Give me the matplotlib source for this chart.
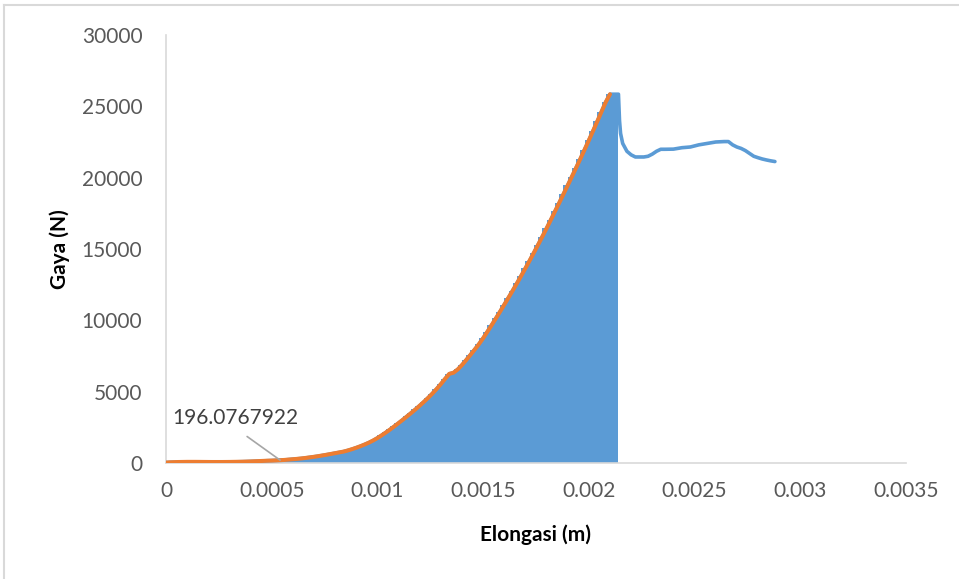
import numpy as np
import matplotlib.pyplot as plt
from matplotlib.lines import Line2D

# --- data ---
step = 0.00002  # elongation spacing of the loading samples (m)
force_load = [
    30, 50, 60, 70, 75, 80, 80, 80, 78, 75,
    72, 70, 70, 70, 72, 75, 80, 85, 90, 100,
    110, 122, 135, 148, 162, 170, 183, 196.0767922, 215, 240,
    265, 290, 320, 355, 395, 435, 480, 530, 580, 635,
    690, 745, 800, 880, 970, 1070, 1180, 1300, 1430, 1580,
    1750, 1940, 2140, 2350, 2570, 2800, 3030, 3270, 3510, 3760,
    4020, 4290, 4570, 4870, 5190, 5530, 5900, 6250, 6330, 6560,
    6870, 7220, 7580, 7950, 8330, 8750, 9200, 9660, 10130, 10610,
    11100, 11590, 12090, 12600, 13120, 13650, 14190, 14740, 15300, 15870,
    16445, 17040, 17640, 18240, 18850, 19460, 20080, 20700, 21330, 21970,
    22620, 23280, 23950, 24630, 25300, 25850,
]
elong_load = np.arange(len(force_load)) * step

# after the peak (blue line only)
elong_post = [0.00214, 0.002145, 0.00215, 0.00216, 0.00218, 0.0022, 0.00222,
              0.00226, 0.00228, 0.0023, 0.00232, 0.00234, 0.00236, 0.0024,
              0.00244, 0.00248, 0.00252, 0.00256, 0.0026, 0.00264, 0.00266,
              0.00268, 0.0027, 0.00272, 0.00274, 0.00276, 0.00278, 0.0028,
              0.00282, 0.00284, 0.00286, 0.00288]
force_post = [25850, 24000, 23100, 22400, 21850, 21600, 21450,
              21450, 21500, 21650, 21850, 21990, 21990, 22000,
              22100, 22150, 22300, 22400, 22500, 22530, 22530,
              22300, 22150, 22050, 21900, 21700, 21500, 21400,
              21310, 21240, 21180, 21130]

label_idx = 27  # point carrying the data label
x_ticks = [0, 0.0005, 0.001, 0.0015, 0.002, 0.0025, 0.003, 0.0035]
x_ticklabels = ['0', '0.0005', '0.001', '0.0015', '0.002', '0.0025', '0.003', '0.0035']
y_ticks = [0, 5000, 10000, 15000, 20000, 25000, 30000]

BLUE = '#5B9BD5'
ORANGE = '#ED7D31'
GRID = '#D9D9D9'
TXT = '#595959'

plt.rcParams['font.family'] = ['Lato', 'DejaVu Sans']

fig = plt.figure(figsize=(9.59, 5.79), dpi=100)
ax = fig.add_axes([166 / 959, 1 - 463 / 579, 740 / 959, 428 / 579])

# stepped area under the loading curve, up to the peak
fill_x = np.append(elong_load, elong_post[0])
fill_y = np.append(force_load, force_post[0])
ax.fill_between(fill_x, fill_y, step='pre', color=BLUE, lw=0, zorder=2)

# blue line (whole record) and orange loading line
ax.plot(np.append(elong_load, elong_post), np.append(force_load, force_post),
        color=BLUE, lw=2.6, solid_capstyle='round', zorder=3)
ax.plot(elong_load, force_load, color=ORANGE, lw=2.9,
        solid_capstyle='round', zorder=4)

ax.annotate(f'{force_load[label_idx]:.7f}',
            xy=(elong_load[label_idx], force_load[label_idx]),
            xytext=(0.000328, 3150), ha='center', va='center',
            fontsize=15, color='#404040',
            arrowprops=dict(arrowstyle='-', color='#A6A6A6', lw=1.2,
                            relpos=(0.5, 0.0), shrinkA=7, shrinkB=0),
            zorder=5)

ax.set_xlim(0, 0.0035)
ax.set_ylim(0, 30000)
ax.set_xticks(x_ticks)
ax.set_xticklabels(x_ticklabels)
ax.set_yticks(y_ticks)
ax.tick_params(axis='both', length=0, labelsize=15, labelcolor=TXT)
ax.tick_params(axis='x', pad=13)
ax.tick_params(axis='y', pad=17)

for s in ['top', 'right']:
    ax.spines[s].set_visible(False)
for s in ['left', 'bottom']:
    ax.spines[s].set_color(GRID)
    ax.spines[s].set_linewidth(1.2)

ax.set_xlabel('Elongasi (m)', fontsize=15, fontweight='bold', va='center')
ax.set_ylabel('Gaya (N)', fontsize=15, fontweight='bold', va='center')
ax.xaxis.set_label_coords(0.5, (463 - 535) / 428)
ax.yaxis.set_label_coords((60 - 166) / 740, 0.5)

# chart frame (top and left edges visible)
fig.add_artist(Line2D([4 / 959, 958 / 959], [1 - 5 / 579, 1 - 5 / 579],
                      color=GRID, lw=1.5))
fig.add_artist(Line2D([4 / 959, 4 / 959], [0, 1 - 5 / 579],
                      color=GRID, lw=1.5))

fig.savefig('out.png', dpi=100)
